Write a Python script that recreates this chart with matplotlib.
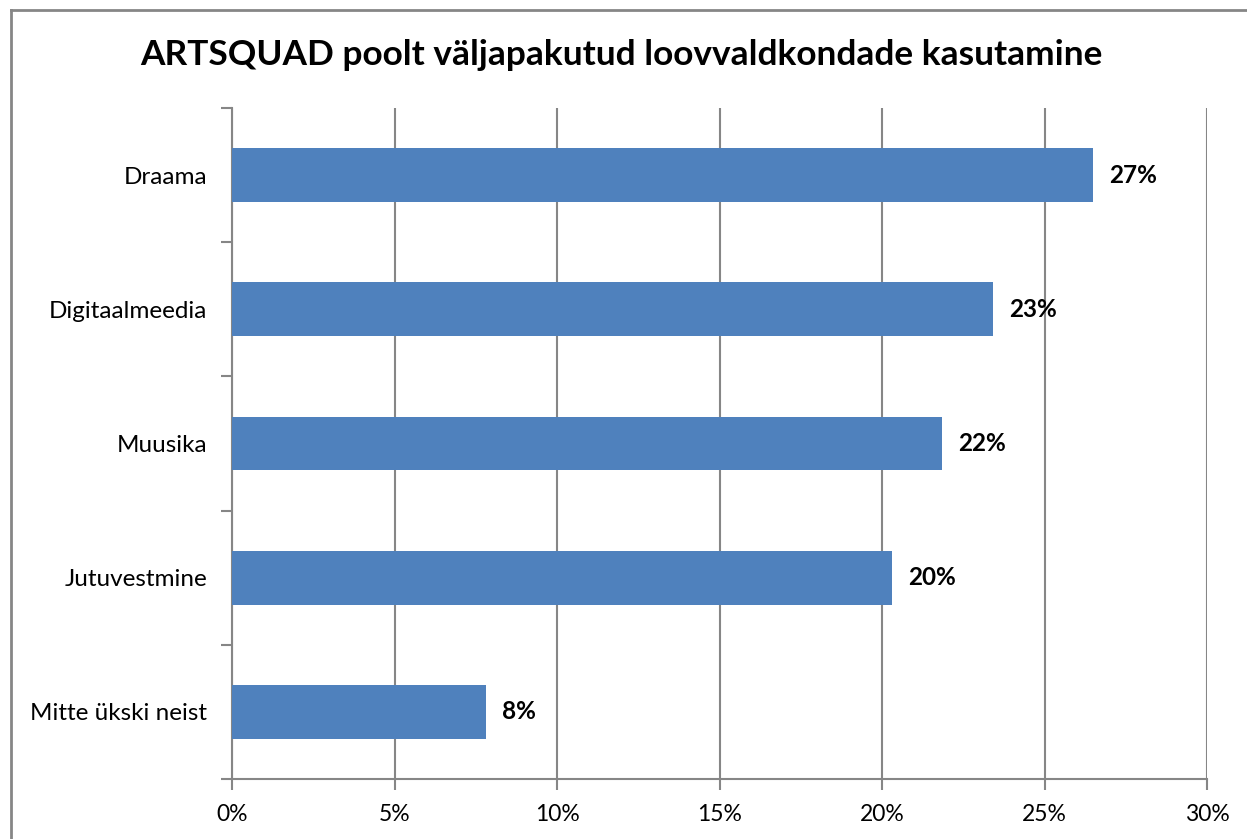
import matplotlib.pyplot as plt
from matplotlib.lines import Line2D
from matplotlib.ticker import PercentFormatter, MultipleLocator

categories = ["Draama", "Digitaalmeedia", "Muusika", "Jutuvestmine", "Mitte ükski neist"]
values = [26.5, 23.4, 21.85, 20.3, 7.8]
labels = ["27%", "23%", "22%", "20%", "8%"]

plt.rcParams['font.family'] = ['Lato', 'DejaVu Sans']

fig = plt.figure(figsize=(12.47, 8.39), dpi=100)
ax = fig.add_axes([232 / 1247, 1 - 779 / 839, (1207 - 232) / 1247, (779 - 108) / 839])

y = list(range(len(categories)))
ax.barh(y, values, height=0.4, color='#4F81BD', zorder=3)
ax.set_ylim(len(categories) - 0.5, -0.5)
ax.set_xlim(0, 30)

for yi, v, lab in zip(y, values, labels):
    ax.text(v + 0.5, yi, lab, va='center', ha='left', fontsize=17.5, fontweight='bold', color='black')

grey = '#868686'
ax.xaxis.set_major_locator(MultipleLocator(5))
ax.xaxis.set_major_formatter(PercentFormatter(decimals=0))
ax.grid(axis='x', color=grey, linewidth=1.5, zorder=0)
ax.set_yticks([i - 0.5 for i in range(len(categories) + 1)], minor=False)
ax.set_yticklabels([])
ax.set_yticks(y, minor=True)
ax.set_yticklabels(categories, minor=True)
ax.tick_params(axis='y', which='minor', length=0, pad=18, labelsize=17.5)
ax.tick_params(axis='y', which='major', length=8, width=1.5, color=grey, direction='out')
ax.tick_params(axis='x', length=8, width=1.5, color=grey, direction='out', pad=10, labelsize=16.5)

for s in ['top', 'right']:
    ax.spines[s].set_visible(False)
for s in ['left', 'bottom']:
    ax.spines[s].set_color(grey)
    ax.spines[s].set_linewidth(1.5)

fig.text(621 / 1247, 1 - 55 / 839, "ARTSQUAD poolt väljapakutud loovvaldkondade kasutamine",
         ha='center', va='center', fontsize=25.4, fontweight='bold')

# outer chart frame (only left and top edges are visible in the crop)
fig.add_artist(Line2D([11 / 1247, 11 / 1247], [0, 1 - 10 / 839], color=grey, linewidth=2,
                      transform=fig.transFigure))
fig.add_artist(Line2D([11 / 1247, 1], [1 - 10 / 839, 1 - 10 / 839], color=grey, linewidth=2,
                      transform=fig.transFigure))

fig.savefig('out.png', dpi=100)
